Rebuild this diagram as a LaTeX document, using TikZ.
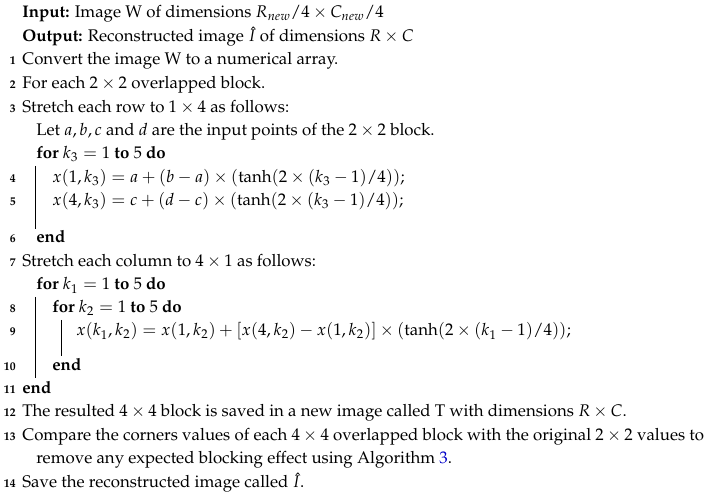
\documentclass[tikz,border=0pt]{standalone}
\usepackage[T1]{fontenc}
\usepackage{mathpazo}
\usepackage{xcolor}
\definecolor{refblue}{RGB}{0,0,200}
\begin{document}
\begin{tikzpicture}[x=0.6pt,y=-0.6pt,
  txt/.style={anchor=base west,inner sep=0pt,font=\fontsize{10.1}{12}\selectfont},
  num/.style={anchor=base east,inner sep=0pt,font=\fontsize{7}{8}\selectfont\bfseries},
  bar/.style={line width=0.5pt}]
\useasboundingbox (0,0) rectangle (704,495);
\node[txt] (in) at (22,18) {\textbf{Input:} Image W of dimensions $R_{new}/4\times C_{new}/4$};
\node[txt] (out) at (22,42) {\textbf{Output:} Reconstructed image $\hat{I}$ of dimensions $R\times C$};
\node[num] (n1) at (16,65) {1}; \node[txt] (l1) at (22,65) {Convert the image W to a numerical array.};
\node[num] (n2) at (16,89) {2}; \node[txt] (l2) at (22,89) {For each $2\times2$ overlapped block.};
\node[num] (n3) at (16,113) {3}; \node[txt] (l3) at (22,113) {Stretch each row to $1\times4$ as follows:};
\node[txt] (let) at (36,136) {Let $a,b,c$ and $d$ are the input points of the $2\times2$ block.};
\node[txt] (f3) at (36,159) {\textbf{for} $k_3=1$ \textbf{to} 5 \textbf{do}};
\node[num] (n4) at (16,183) {4}; \node[txt] (l4) at (52,183) {$x(1,k_3)=a+(b-a)\times(\tanh(2\times(k_3-1)/4));$};
\node[num] (n5) at (16,206) {5}; \node[txt] (l5) at (52,206) {$x(4,k_3)=c+(d-c)\times(\tanh(2\times(k_3-1)/4));$};
\node[num] (n6) at (16,243) {6}; \node[txt] (l6) at (36,243) {\textbf{end}};
\node[num] (n7) at (16,267) {7}; \node[txt] (l7) at (22,267) {Stretch each column to $4\times1$ as follows:};
\node[txt] (f1) at (36,290) {\textbf{for} $k_1=1$ \textbf{to} 5 \textbf{do}};
\node[num] (n8) at (16,313) {8}; \node[txt] (f2) at (52,313) {\textbf{for} $k_2=1$ \textbf{to} 5 \textbf{do}};
\node[num] (n9) at (16,336) {9}; \node[txt] (l9) at (76,336) {$x(k_1,k_2)=x(1,k_2)+[x(4,k_2)-x(1,k_2)]\times(\tanh(2\times(k_1-1)/4));$};
\node[num] (n10) at (16,371) {10}; \node[txt] (l10) at (52,371) {\textbf{end}};
\node[num] (n11) at (16,394) {11}; \node[txt] (l11) at (22,394) {\textbf{end}};
\node[num] (n12) at (16,417) {12}; \node[txt] (l12) at (22,417) {The resulted $4\times4$ block is saved in a new image called T with dimensions $R\times C$.};
\node[num] (n13) at (16,441) {13}; \node[txt] (l13) at (22,441) {Compare the corners values of each $4\times4$ overlapped block with the original $2\times2$ values to};
\node[txt] (l13b) at (36,464) {remove any expected blocking effect using Algorithm \textcolor{refblue}{3}.};
\node[num] (n14) at (16,488) {14}; \node[txt] (l14) at (22,488) {Save the reconstructed image called $\hat{I}$.};
\draw[bar] (35,166) -- (35,229);
\draw[bar] (35,297) -- (35,378);
\draw[bar] (61,320) -- (61,356);
\end{tikzpicture}
\end{document}
